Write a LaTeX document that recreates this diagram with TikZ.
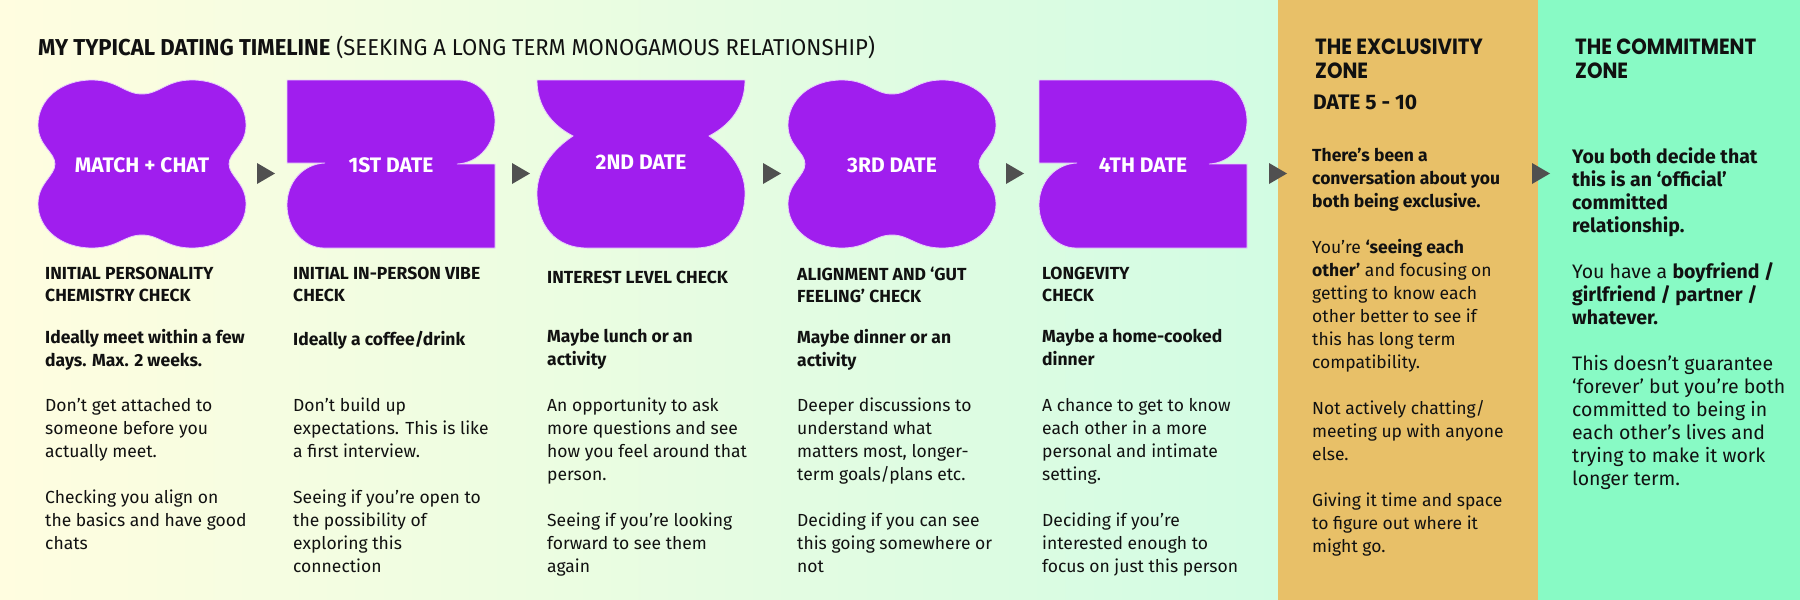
\documentclass[tikz,border=0pt]{standalone}
\usepackage{fontspec}
\setmainfont{Fira Sans}
\newfontfamily\condfont[FakeStretch=0.96]{Fira Sans}
\newfontfamily\zonefont[FakeStretch=0.9]{Poppins}
\usetikzlibrary{positioning, calc}

\definecolor{datepurple}{HTML}{A01EEE}
\definecolor{dateedge}{HTML}{E8D0FA}
\definecolor{bgleft}{HTML}{FFFDE0}
\definecolor{bgright}{HTML}{D2FCE3}
\definecolor{zoneorange}{HTML}{E8C068}
\definecolor{zonegreen}{HTML}{88FAC5}
\definecolor{tipgray}{HTML}{505050}
\definecolor{ink}{HTML}{111111}

\tikzset{
  datefill/.style = {fill=datepurple, draw=dateedge, line width=0.8pt},
  flower/.pic = {
    \path[datefill] (104,14) .. controls (86,14) and (80,0) .. (54,0)
      .. controls (22,0) and (0,20) .. (0,45) .. controls (0,66) and (17,72) .. (17,84)
      .. controls (17,96) and (0,103) .. (0,124) .. controls (0,148) and (22,168) .. (54,168)
      .. controls (80,168) and (86,155) .. (104,155) .. controls (122,155) and (128,168) .. (154,168)
      .. controls (186,168) and (208,148) .. (208,124) .. controls (208,103) and (191,96) .. (191,84)
      .. controls (191,72) and (208,66) .. (208,45) .. controls (208,20) and (186,0) .. (154,0)
      .. controls (128,0) and (122,14) .. (104,14) -- cycle;
  },
  zigzag/.pic = {
    \path[datefill] (0,0) -- (172,0) .. controls (193,0) and (208,19) .. (208,41)
      .. controls (208,64) and (192,83) .. (170,84) -- (208,84) -- (208,168) -- (37,168)
      .. controls (16,168) and (0,148) .. (0,125) .. controls (0,102) and (16,84) .. (38,83)
      -- (0,83) -- cycle;
  },
  bowl/.pic = {
    \path[datefill] (0,0) -- (208,0) .. controls (208,25) and (195,44) .. (172,56)
      .. controls (193,70) and (208,90) .. (208,113) .. controls (208,145) and (190,168) .. (158,168)
      -- (50,168) .. controls (18,168) and (0,145) .. (0,113)
      .. controls (0,90) and (15,70) .. (36,56) .. controls (13,44) and (0,25) .. (0,0) -- cycle;
  }
}

\begin{document}
\begin{tikzpicture}[
  x=1pt, y=-1pt,
  datelabel/.style = {text=white, inner sep=0pt, font=\fontsize{21}{22}\selectfont\bfseries},
  textblock/.style = {anchor=north west, align=left, inner sep=0pt, text=ink,
    execute at begin node={\rule{0pt}{16pt}}},
  colhead/.style = {textblock, font=\fontsize{17.5}{22}\selectfont\bfseries},
  colsub/.style = {textblock, font=\fontsize{17.5}{23}\selectfont\bfseries},
  colbody/.style = {textblock, font=\fontsize{17.5}{23}\selectfont},
  zonehead/.style = {textblock, font=\zonefont\fontsize{22}{24}\selectfont\bfseries},
  tip/.style = {fill=tipgray}
  ]
  \useasboundingbox (0,0) rectangle (1800,600);
  \shade[left color=bgleft, right color=bgright] (0,0) rectangle (1278,600);
  \fill[zoneorange] (1278,0) rectangle (1538,600);
  \fill[zonegreen] (1538,0) rectangle (1800,600);

  \node[anchor=base west, inner sep=0pt, text=ink, font=\condfont\fontsize{23}{24}\selectfont] (title) at (38,55)
    {{\bfseries MY TYPICAL DATING TIMELINE} (SEEKING A LONG TERM MONOGAMOUS RELATIONSHIP)};

  \pic at (38,80) {flower};
  \pic at (287,80) {zigzag};
  \pic at (537,80) {bowl};
  \pic at (788,80) {flower};
  \pic at (1039,80) {zigzag};
  \node[datelabel] (match) at (142,165) {MATCH + CHAT};
  \node[datelabel] (date1) at (391,165) {1ST DATE};
  \node[datelabel] (date2) at (641,162) {2ND DATE};
  \node[datelabel] (date3) at (892,165) {3RD DATE};
  \node[datelabel] (date4) at (1143,165) {4TH DATE};

  \foreach \x in {257,512,763,1006,1269,1532}
    \fill[tip] (\x,163) -- ++(18,10.5) -- ++(-18,10.5) -- cycle;

  % columns: heading line, bold line, then the text
  \node[colhead] (head1) at (45,267) {INITIAL PERSONALITY\\CHEMISTRY CHECK};
  \node[colsub] (sub1) at (45,329) {Ideally meet within a few\\days. Max. 2 weeks.};
  \node[colbody] (body1) at (45,398) {Don’t get attached to\\someone before you\\actually meet.\\[23pt]Checking you align on\\the basics and have good\\chats};

  \node[colhead] (head2) at (293,267) {INITIAL IN-PERSON VIBE\\CHECK};
  \node[colsub] (sub2) at (293,329) {Ideally a coffee/drink};
  \node[colbody] (body2) at (293,398) {Don’t build up\\expectations. This is like\\a first interview.\\[23pt]Seeing if you’re open to\\the possibility of\\exploring this\\connection};

  \node[colhead] (head3) at (547,267) {INTEREST LEVEL CHECK};
  \node[colsub] (sub3) at (547,329) {Maybe lunch or an\\activity};
  \node[colbody] (body3) at (547,398) {An opportunity to ask\\more questions and see\\how you feel around that\\person.\\[23pt]Seeing if you’re looking\\forward to see them\\again};

  \node[colhead] (head4) at (797,267) {ALIGNMENT AND ‘GUT\\FEELING’ CHECK};
  \node[colsub] (sub4) at (797,329) {Maybe dinner or an\\activity};
  \node[colbody] (body4) at (797,398) {Deeper discussions to\\understand what\\matters most, longer-\\term goals/plans etc.\\[23pt]Deciding if you can see\\this going somewhere or\\not};

  \node[colhead] (head5) at (1042,267) {LONGEVITY\\CHECK};
  \node[colsub] (sub5) at (1042,329) {Maybe a home-cooked\\dinner};
  \node[colbody] (body5) at (1042,398) {A chance to get to know\\each other in a more\\personal and intimate\\setting.\\[23pt]Deciding if you’re\\interested enough to\\focus on just this person};

  % zones
  \node[zonehead] (exclusive) at (1315,39) {THE EXCLUSIVITY\\ZONE};
  \node[colsub, font=\fontsize{21}{23}\selectfont\bfseries] (dates) at (1313,93) {DATE 5 - 10};
  \node[colbody] (exbody) at (1312,148) {\textbf{There’s been a}\\\textbf{conversation about you}\\\textbf{both being exclusive.}\\[23pt]You’re \textbf{‘seeing each}\\\textbf{other’} and focusing on\\getting to know each\\other better to see if\\this has long term\\compatibility.\\[23pt]Not actively chatting/\\meeting up with anyone\\else.\\[23pt]Giving it time and space\\to figure out where it\\might go.};

  \node[zonehead] (commit) at (1575,39) {THE COMMITMENT\\ZONE};
  \node[colbody, font=\fontsize{19.5}{23}\selectfont] (cobody) at (1572,147) {\textbf{You both decide that}\\\textbf{this is an ‘official’}\\\textbf{committed}\\\textbf{relationship.}\\[23pt]You have a \textbf{boyfriend /}\\\textbf{girlfriend / partner /}\\\textbf{whatever.}\\[23pt]This doesn’t guarantee\\‘forever’ but you’re both\\committed to being in\\each other’s lives and\\trying to make it work\\longer term.};
\end{tikzpicture}
\end{document}
